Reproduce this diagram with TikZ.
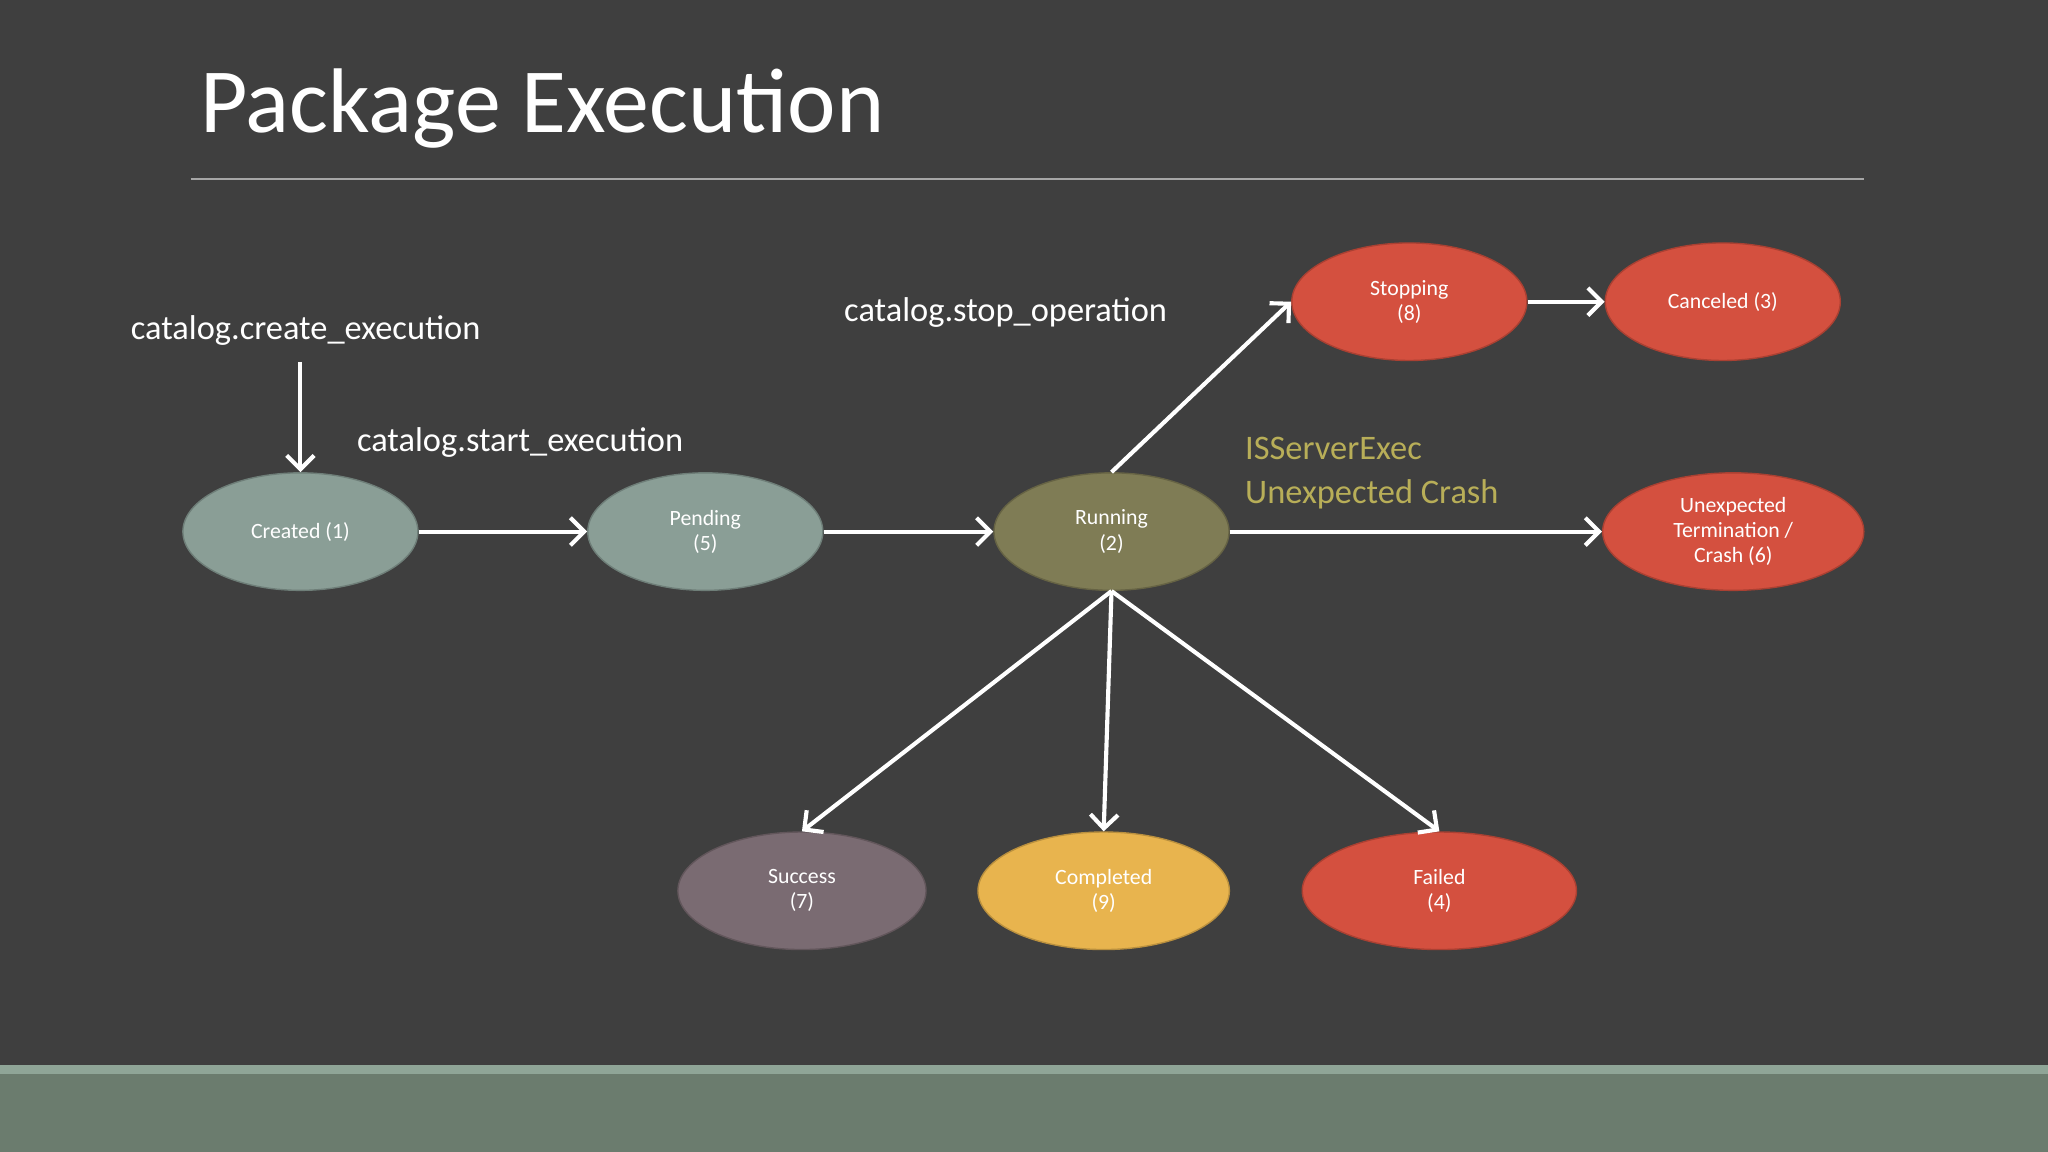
\documentclass[tikz,border=0pt]{standalone}
\usepackage{fontspec}
\setmainfont{Carlito}
\usetikzlibrary{shapes.geometric,arrows.meta}
\definecolor{bg}{HTML}{3F3F3F}
\definecolor{sage}{HTML}{8A9E96}
\definecolor{olive}{HTML}{7F7C55}
\definecolor{redst}{HTML}{D4503F}
\definecolor{mauve}{HTML}{7A6B72}
\definecolor{gold}{HTML}{E8B44E}
\definecolor{lbl}{HTML}{B8AE58}
\definecolor{bandA}{HTML}{8FA597}
\definecolor{bandB}{HTML}{6B7C6E}
\begin{document}
\begin{tikzpicture}[x=0.02cm,y=-0.02cm,
  st/.style={ellipse,draw=#1!80!black,fill=#1,line width=0.6pt,text=white,font=\fontsize{9.5}{11}\selectfont,align=center,inner sep=0pt},
  arr/.style={draw=white,line width=1.8pt,-{Straight Barb[length=6pt,width=12pt,line width=1.8pt]}},
  lab/.style={text=white,font=\fontsize{15}{18}\selectfont,inner sep=0pt}]
\fill[bg] (0,0) rectangle (1568,882);
\fill[bandA] (0,815) rectangle (1568,823);
\fill[bandB] (0,822) rectangle (1568,882);
\node[anchor=west,text=white,font=\fontsize{40}{48}\selectfont,inner sep=0pt] (title) at (153,83) {Package Execution};
\draw[gray!70,line width=0.6pt] (146,137) -- (1427,137);
\node[st=sage,minimum width=3.6cm,minimum height=1.8cm] (cr) at (230,407) {Created (1)};
\node[st=sage,minimum width=3.6cm,minimum height=1.8cm] (pe) at (540,407) {Pending\\(5)};
\node[st=olive,minimum width=3.6cm,minimum height=1.8cm] (ru) at (851,407) {Running\\(2)};
\node[st=redst,minimum width=3.6cm,minimum height=1.8cm] (sp) at (1079,231) {Stopping\\(8)};
\node[st=redst,minimum width=3.6cm,minimum height=1.8cm] (ca) at (1319,231) {Canceled (3)};
\node[st=redst,minimum width=4.0cm,minimum height=1.8cm] (un) at (1327,407) {Unexpected\\Termination /\\Crash (6)};
\node[st=mauve,minimum width=3.8cm,minimum height=1.8cm] (su) at (614,682) {Success\\(7)};
\node[st=gold,minimum width=3.85cm,minimum height=1.8cm] (co) at (845,682) {Completed\\(9)};
\node[st=redst,minimum width=4.2cm,minimum height=1.8cm] (fa) at (1102,682) {Failed\\(4)};
\node[lab] (lc) at (234,253) {catalog.create\_execution};
\node[lab,anchor=west] (ls) at (273,339) {catalog.start\_execution};
\node[lab,anchor=west] (lo) at (646,239) {catalog.stop\_operation};
\node[lab,anchor=north west,text=lbl,align=left,font=\fontsize{15}{19.5}\selectfont] (lx) at (953,334) {ISServerExec\\Unexpected Crash};
\coordinate (c0) at (230,277);
\draw[arr] (c0) -- (cr.north);
\draw[arr] (cr.east) -- (pe.west);
\draw[arr] (pe.east) -- (ru.west);
\draw[arr] (ru.north) -- (sp.west);
\draw[arr] (sp.east) -- (ca.west);
\draw[arr] (ru.east) -- (un.west);
\draw[arr] (ru.south) -- (su.north);
\draw[arr] (ru.south) -- (co.north);
\draw[arr] (ru.south) -- (fa.north);
\end{tikzpicture}
\end{document}
